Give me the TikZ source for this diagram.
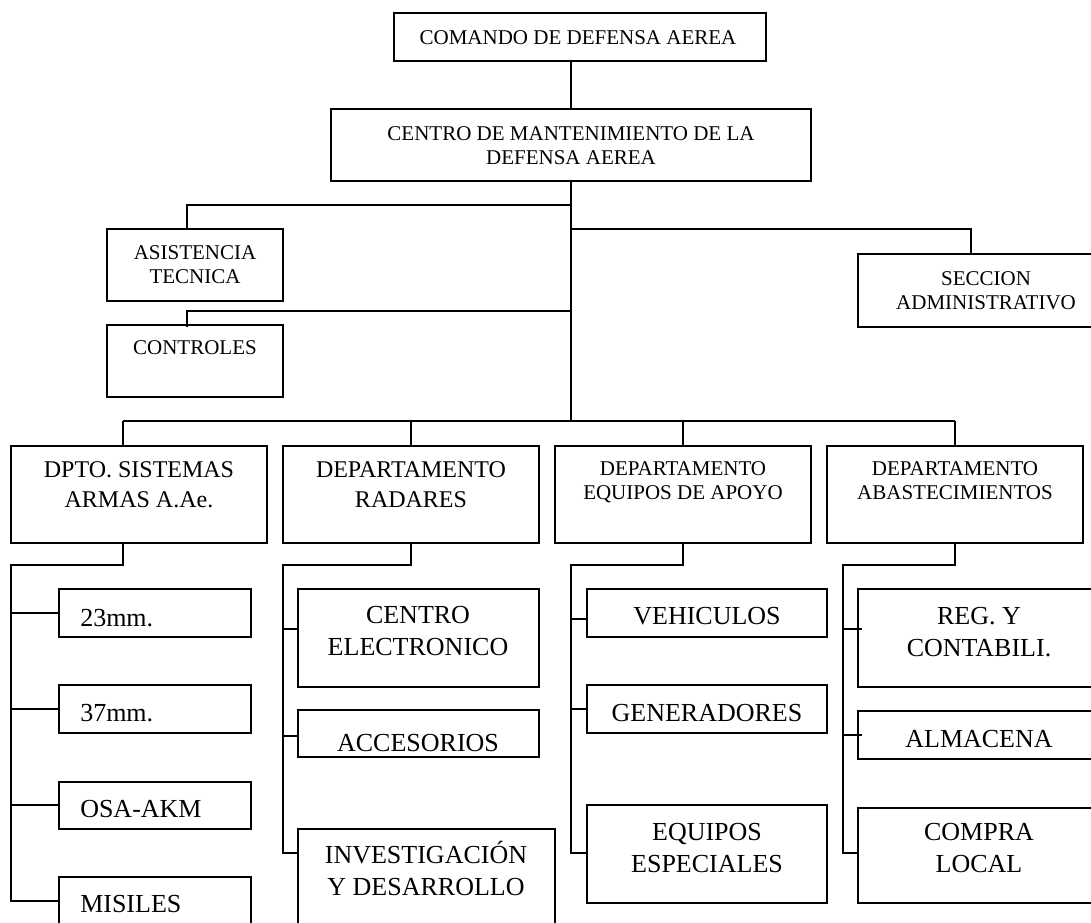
\documentclass[tikz,border=0pt]{standalone}
\usepackage{fontspec}
\setmainfont{Liberation Serif}
\usetikzlibrary{calc}
\newcommand\ml[1]{\begin{tabular}[t]{@{}c@{}}#1\end{tabular}}
\newcommand\mkbox[5]{\node[box, minimum width={(#4-#2)*0.75pt}, minimum height={(#5-#3)*0.75pt}] (#1) at (#2,#3) {};}
\begin{document}
\begin{tikzpicture}[x=0.75pt,y=-0.75pt,
  box/.style={draw, line width=1.5pt, inner sep=0pt, outer sep=0pt, anchor=north west},
  link/.style={line width=1.5pt},
  fA/.style={font=\fontsize{15.75}{18}\selectfont},
  fB/.style={font=\fontsize{18}{22.5}\selectfont},
  fC/.style={font=\fontsize{19.5}{24}\selectfont},
  lbl/.style={inner sep=0pt, anchor=base},
  lblw/.style={inner sep=0pt, anchor=base west}]
\useasboundingbox (0,0) rectangle (1091,922);
\clip (0,0) rectangle (1091,922);
% boxes
\mkbox{top}{394}{13}{766}{61}
\mkbox{cm}{331}{109}{811}{181}
\mkbox{asis}{107}{229}{283}{301}
\mkbox{ctrl}{107}{325}{283}{397}
\mkbox{secc}{858}{254}{1115}{327}
\mkbox{d1}{11}{446}{267}{543}
\mkbox{d2}{283}{446}{539}{543}
\mkbox{d3}{555}{446}{811}{543}
\mkbox{d4}{827}{446}{1083}{543}
\mkbox{a1}{59}{589}{251}{637}
\mkbox{a2}{59}{685}{251}{733}
\mkbox{a3}{59}{782}{251}{829}
\mkbox{a4}{59}{877}{251}{940}
\mkbox{r1}{298}{589}{539}{687}
\mkbox{r2}{298}{710}{539}{757}
\mkbox{r3}{298}{829}{555}{940}
\mkbox{e1}{587}{589}{827}{637}
\mkbox{e2}{587}{685}{827}{733}
\mkbox{e3}{587}{805}{827}{903}
\mkbox{b1}{858}{589}{1100}{687}
\mkbox{b2}{858}{711}{1100}{759}
\mkbox{b3}{858}{808}{1100}{903}
% texts
\node[lbl, fA] (t-top) at (578,44) {COMANDO DE DEFENSA AEREA};
\node[lbl, fA] (t-cm) at (571,140) {\ml{CENTRO DE MANTENIMIENTO DE LA\\DEFENSA AEREA}};
\node[lbl, fA] (t-asis) at (195,259) {\ml{ASISTENCIA\\TECNICA}};
\node[lbl, fA] (t-ctrl) at (195,354) {CONTROLES};
\node[lbl, fA] (t-secc) at (986,285) {\ml{SECCION\\ADMINISTRATIVO}};
\node[lbl, fB] (t-d1) at (139,477) {\ml{DPTO. SISTEMAS\\ARMAS A.Ae.}};
\node[lbl, fB] (t-d2) at (411,477) {\ml{DEPARTAMENTO\\RADARES}};
\node[lbl, fA] (t-d3) at (683,475) {\ml{DEPARTAMENTO\\EQUIPOS DE APOYO}};
\node[lbl, fA] (t-d4) at (955,475) {\ml{DEPARTAMENTO\\ABASTECIMIENTOS}};
\node[lblw, fC] (t-a1) at (80,626) {23mm.};
\node[lblw, fC] (t-a2) at (80,721) {37mm.};
\node[lblw, fC] (t-a3) at (80,817) {OSA-AKM};
\node[lblw, fC] (t-a4) at (80,912) {MISILES};
\node[lbl, fC] (t-r1) at (418,623) {\ml{CENTRO\\ELECTRONICO}};
\node[lbl, fC] (t-r2) at (418,751) {ACCESORIOS};
\node[lbl, fC] (t-r3) at (426,863) {\ml{INVESTIGACIÓN\\Y DESARROLLO}};
\node[lbl, fC] (t-e1) at (707,624) {VEHICULOS};
\node[lbl, fC] (t-e2) at (707,721) {GENERADORES};
\node[lbl, fC] (t-e3) at (707,840) {\ml{EQUIPOS\\ESPECIALES}};
\node[lbl, fC] (t-b1) at (979,624) {\ml{REG. Y\\CONTABILI.}};
\node[lbl, fC] (t-b2) at (979,747) {ALMACENA};
\node[lbl, fC] (t-b3) at (979,840) {\ml{COMPRA\\LOCAL}};
% junctions
\coordinate (jA) at (571,205);
\coordinate (jS) at (571,229);
\coordinate (jC) at (571,311);
\coordinate (busL) at (123,421);
\coordinate (busR) at (955,421);
% upper connectors
\draw[link] (top.south -| cm.north) -- (cm.north);
\draw[link] (cm.south) -- (cm.south |- busL);
\draw[link] (jA) -| ($(asis.north west)+(80,0)$);
\draw[link] (jC) -| ($(ctrl.north west)+(80,2)$);
\draw[link] (jS) -| ($(secc.north west)+(113,0)$);
\draw[link] (busL) -- (busR);
\draw[link] (busL) -- (busL |- d1.north);
\draw[link] (d2.north |- busL) -- (d2.north);
\draw[link] (d3.north |- busL) -- (d3.north);
\draw[link] (busR) -- (busR |- d4.north);
% dept 1
\draw[link] (d1.south -| busL) -- ++(0,22) -| ($(a4.north west)+(-48,24)$) -- ($(a4.north west)+(0,24)$);
\draw[link] (a1.west -| d1.west) -- (a1.west);
\draw[link] (a2.west -| d1.west) -- (a2.west);
\draw[link] ($(a3.north west)+(-48,23)$) -- ($(a3.north west)+(0,23)$);
% dept 2
\draw[link] (d2.south) -- ++(0,22) -| ($(r3.north west)+(-15,24)$) -- ($(r3.north west)+(0,24)$);
\draw[link] ($(r1.north west)+(-15,40)$) -- ($(r1.north west)+(0,40)$);
\draw[link] ($(r2.north west)+(-15,26)$) -- ($(r2.north west)+(0,26)$);
% dept 3
\draw[link] (d3.south) -- ++(0,22) -| ($(e3.north west)+(-16,48)$) -- ($(e3.north west)+(0,48)$);
\draw[link] ($(e1.north west)+(-16,30)$) -- ($(e1.north west)+(0,30)$);
\draw[link] ($(e2.north west)+(-16,24)$) -- ($(e2.north west)+(0,24)$);
% dept 4
\draw[link] (d4.south) -- ++(0,22) -| ($(b3.north west)+(-15,45)$) -- ($(b3.north west)+(0,45)$);
\draw[link] ($(b1.north west)+(-15,40)$) -- ($(b1.north west)+(4,40)$);
\draw[link] ($(b2.north west)+(-15,24)$) -- ($(b2.north west)+(4,24)$);
\end{tikzpicture}
\end{document}
